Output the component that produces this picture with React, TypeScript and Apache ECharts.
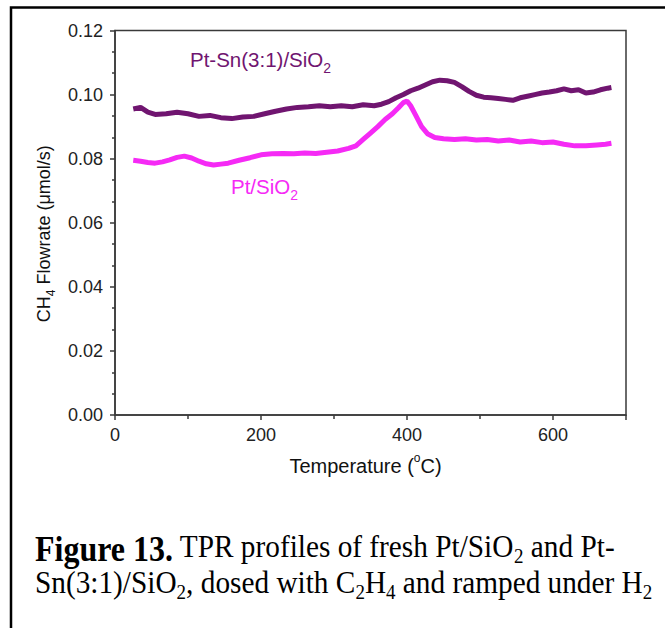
import React, { useEffect, useRef } from "react";
import * as echarts from "echarts";

// Pt-Sn(3:1)/SiO2 series: temperature (°C) and CH4 flowrate (µmol/s)
const ptSnT = [25, 35, 45, 55, 70, 85, 100, 115, 130, 145, 160, 175, 190, 205, 220, 235, 250, 265, 280, 295, 310, 325, 340, 355, 365, 375, 385, 395, 405, 415, 425, 435, 445, 455, 465, 475, 485, 495, 505, 515, 525, 535, 545, 555, 565, 575, 585, 595, 605, 615, 625, 635, 645, 655, 665, 675, 680];
const ptSnV = [0.0955, 0.0960, 0.0945, 0.0938, 0.0940, 0.0945, 0.0940, 0.0932, 0.0935, 0.0928, 0.0925, 0.0930, 0.0932, 0.0940, 0.0948, 0.0955, 0.0960, 0.0962, 0.0965, 0.0962, 0.0965, 0.0962, 0.0968, 0.0965, 0.0970, 0.0978, 0.0990, 0.1000, 0.1012, 0.1020, 0.1030, 0.1040, 0.1045, 0.1043, 0.1038, 0.1025, 0.1010, 0.0998, 0.0992, 0.0990, 0.0988, 0.0985, 0.0982, 0.0990, 0.0995, 0.1000, 0.1005, 0.1008, 0.1012, 0.1018, 0.1012, 0.1015, 0.1005, 0.1008, 0.1015, 0.1020, 0.1022];

// Pt/SiO2 series
const ptT = [25, 35, 45, 55, 65, 75, 85, 95, 105, 115, 125, 135, 145, 155, 170, 185, 200, 215, 230, 245, 260, 275, 290, 305, 320, 330, 340, 350, 360, 370, 380, 388, 395, 400, 405, 412, 420, 428, 438, 450, 465, 480, 495, 510, 525, 540, 555, 570, 585, 600, 615, 630, 645, 660, 672, 680];
const ptV = [0.0795, 0.0792, 0.0788, 0.0786, 0.0790, 0.0796, 0.0804, 0.0808, 0.0802, 0.0792, 0.0784, 0.0780, 0.0783, 0.0786, 0.0795, 0.0803, 0.0812, 0.0815, 0.0816, 0.0815, 0.0818, 0.0816, 0.0820, 0.0824, 0.0832, 0.0840, 0.0860, 0.0880, 0.0900, 0.0922, 0.0940, 0.0958, 0.0975, 0.0980, 0.0965, 0.0935, 0.0900, 0.0878, 0.0866, 0.0862, 0.0860, 0.0862, 0.0858, 0.0860, 0.0855, 0.0858, 0.0852, 0.0855, 0.0850, 0.0852, 0.0845, 0.0840, 0.0840, 0.0843, 0.0845, 0.0848];

const xMin = 0;
const xMax = 700;
const xStep = 200;
const yMin = 0;
const yMax = 0.12;
const yStep = 0.02;

const PURPLE = "#701570";
const MAGENTA = "#f52af5";
const SANS = "Liberation Sans, Arial, sans-serif";
const SERIF = "Liberation Serif, Times New Roman, serif";

export default function App() {
  const ref = useRef<HTMLDivElement>(null);

  useEffect(() => {
    if (!ref.current) return;
    const chart = echarts.init(ref.current, undefined, { renderer: "svg" });

    const capMain = { fontSize: 29.3, fontFamily: SERIF, fill: "#000", lineHeight: 30, verticalAlign: "top" };
    const capBold = { ...capMain, fontSize: 32, fontWeight: "bold" };
    const capSub = { fontSize: 19, fontFamily: SERIF, fill: "#000", lineHeight: 19, padding: [13, 0, 0, 0], verticalAlign: "top" };

    const annMain = (c: string) => ({ fontSize: 20.5, fontFamily: SANS, fill: c, lineHeight: 22, verticalAlign: "top" });
    const annSub = (c: string) => ({ fontSize: 14, fontFamily: SANS, fill: c, lineHeight: 14, padding: [12, 0, 0, 0], verticalAlign: "top" });

    chart.setOption({
      animation: false,
      backgroundColor: "#fff",
      grid: {
        left: 115,
        right: 39,
        top: 30.5,
        bottom: 213,
        show: true,
        borderColor: "#3a3a3a",
        borderWidth: 1.5,
        backgroundColor: "transparent",
      },
      xAxis: {
        type: "value",
        min: xMin,
        max: xMax,
        interval: xStep,
        name: "{a|Temperature (}{o|o}{a|C)}",
        nameLocation: "middle",
        nameGap: 37,
        nameTextStyle: {
          padding: [0, 10, 0, 0],
          rich: {
            a: { fontSize: 20, fontFamily: SANS, color: "#111", lineHeight: 22, padding: [4, 0, 0, 0], verticalAlign: "top" },
            o: { fontSize: 12, fontFamily: SANS, color: "#111", lineHeight: 12, verticalAlign: "top" },
          },
        },
        axisLine: { show: true, lineStyle: { color: "#3a3a3a", width: 1.5 } },
        axisTick: { show: true, inside: false, length: 5, lineStyle: { color: "#3a3a3a", width: 1.5 } },
        minorTick: { show: true, splitNumber: 2, length: 4, lineStyle: { color: "#3a3a3a", width: 1.5 } },
        splitLine: { show: false },
        minorSplitLine: { show: false },
        axisLabel: {
          margin: 11,
          fontSize: 18,
          fontFamily: SANS,
          color: "#222",
          formatter: (v: number) => (v % xStep === 0 ? String(v) : ""),
        },
      },
      yAxis: {
        type: "value",
        min: yMin,
        max: yMax,
        interval: yStep,
        name: "{a|CH}{s|4}{a| Flowrate (μmol/s)}",
        nameLocation: "middle",
        nameGap: 60,
        nameRotate: 90,
        nameTextStyle: {
          padding: [0, 22, 0, 0],
          rich: {
            a: { fontSize: 18, fontFamily: SANS, color: "#111", lineHeight: 20, verticalAlign: "top" },
            s: { fontSize: 12, fontFamily: SANS, color: "#111", lineHeight: 12, padding: [10, 0, 0, 0], verticalAlign: "top" },
          },
        },
        axisLine: { show: true, lineStyle: { color: "#3a3a3a", width: 1.5 } },
        axisTick: { show: true, inside: false, length: 5, lineStyle: { color: "#3a3a3a", width: 1.5 } },
        minorTick: { show: true, splitNumber: 3, length: 3, lineStyle: { color: "#3a3a3a", width: 1.5 } },
        splitLine: { show: false },
        minorSplitLine: { show: false },
        axisLabel: {
          margin: 12,
          fontSize: 18,
          fontFamily: SANS,
          color: "#222",
          formatter: (v: number) => v.toFixed(2),
        },
      },
      series: [
        {
          name: "Pt-Sn(3:1)/SiO2",
          type: "line",
          data: ptSnT.map((t, i) => [t, ptSnV[i]]),
          showSymbol: false,
          lineStyle: { color: PURPLE, width: 5 },
          itemStyle: { color: PURPLE },
          z: 3,
        },
        {
          name: "Pt/SiO2",
          type: "line",
          data: ptT.map((t, i) => [t, ptV[i]]),
          showSymbol: false,
          lineStyle: { color: MAGENTA, width: 5 },
          itemStyle: { color: MAGENTA },
          z: 2,
        },
      ],
      graphic: [
        {
          type: "polyline",
          shape: { points: [[11, 628], [11, 7.5], [665, 7.5]] },
          style: { stroke: "#000", lineWidth: 2.5, fill: "none" },
          silent: true,
        },
        {
          type: "text",
          left: 190,
          top: 49,
          style: {
            text: "{a|Pt-Sn(3:1)/SiO}{s|2}",
            rich: { a: annMain(PURPLE), s: annSub(PURPLE) },
          },
        },
        {
          type: "text",
          left: 231,
          top: 176,
          style: {
            text: "{a|Pt/SiO}{s|2}",
            rich: { a: annMain(MAGENTA), s: annSub(MAGENTA) },
          },
        },
        {
          type: "text",
          left: 35,
          top: 531,
          scaleY: 1.1,
          style: {
            text: "{b|Figure 13.}{n| TPR profiles of fresh Pt/SiO}{s|2}{n| and Pt-}",
            rich: { b: capBold, n: capMain, s: capSub },
          },
        },
        {
          type: "text",
          left: 35,
          top: 567,
          scaleY: 1.1,
          style: {
            text: "{n|Sn(3:1)/SiO}{s|2}{n|, dosed with C}{s|2}{n|H}{s|4}{n| and ramped under H}{s|2}",
            rich: { n: capMain, s: capSub },
          },
        },
      ],
    });

    return () => chart.dispose();
  }, []);

  return (
    <div
      ref={ref}
      style={{ position: "fixed", left: 0, top: 0, width: 665, height: 628 }}
    />
  );
}
